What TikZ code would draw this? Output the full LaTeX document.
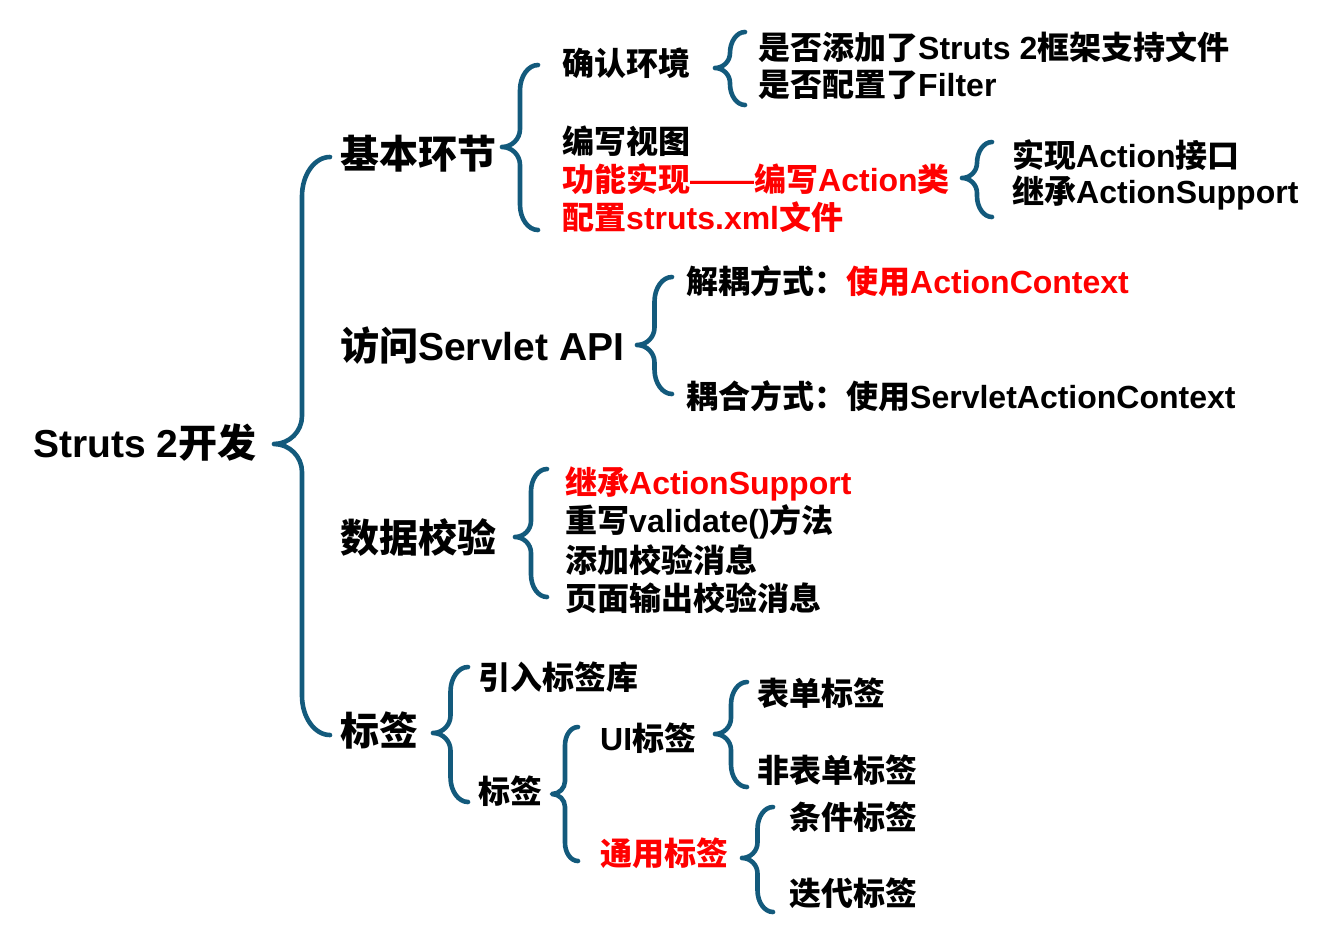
\documentclass[tikz,border=0pt]{standalone}
\usepackage{fontspec}
\setmainfont{Liberation Sans}
\newfontfamily\latfont{Liberation Sans}
\newfontfamily\cjk{Noto Sans CJK SC}
% switch fonts between Han characters and Latin text
\XeTeXinterchartokenstate=1
\newXeTeXintercharclass\hanclass
\count255="4E00
\loop
  \XeTeXcharclass\count255=\hanclass
  \advance\count255 by 1
\ifnum\count255<"A000 \repeat
\XeTeXcharclass"FF1A=\hanclass
\XeTeXinterchartoks 0 \hanclass = {\cjk}
\XeTeXinterchartoks 4095 \hanclass = {\cjk}
\XeTeXinterchartoks \hanclass 0 = {\latfont}
\XeTeXinterchartoks \hanclass 4095 = {\latfont}
\usepackage{tikz}
\usetikzlibrary{calc}
\definecolor{mapBrace}{HTML}{135A7C}
\definecolor{mapRed}{HTML}{FF0000}
\tikzset{
  rootlbl/.style={anchor=west, inner sep=0pt, font=\fontsize{39}{39}\selectfont\bfseries},
  mainlbl/.style={anchor=west, inner sep=0pt, font=\fontsize{39}{39}\selectfont\bfseries},
  leaflbl/.style={anchor=west, inner sep=0pt, font=\fontsize{32}{32}\selectfont\bfseries},
  hot/.style={text=mapRed},
  brc/.style={draw=mapBrace, line width=4.6pt, line cap=round, line join=round}
}

\begin{document}
\begin{tikzpicture}[x=1pt, y=-1pt]
\useasboundingbox (0,0) rectangle (1319,951);

% root and main branches
\node[rootlbl] (root) at (33,443) {Struts 2开发};
\node[mainlbl] (jb) at (340,154) {基本环节};
\node[mainlbl] (api) at (340,346) {访问Servlet API};
\node[mainlbl] (chk) at (340,538) {数据校验};
\node[mainlbl] (tag) at (340,730) {标签};

% basic steps
\node[leaflbl] (env) at (562,63) {确认环境};
\node[leaflbl] (view) at (562,141) {编写视图};
\node[leaflbl, hot] (act) at (562,179) {功能实现——编写Action类};
\node[leaflbl, hot] (cfg) at (562,217) {配置struts.xml文件};
\node[leaflbl] (env1) at (758,47) {是否添加了Struts 2框架支持文件};
\node[leaflbl] (env2) at (758,85) {是否配置了Filter};
\node[leaflbl] (act1) at (1012,155) {实现Action接口};
\node[leaflbl] (act2) at (1012,193) {继承ActionSupport};

% servlet api
\node[leaflbl] (api1) at (686,281) {解耦方式：\textcolor{mapRed}{使用ActionContext}};
\node[leaflbl] (api2) at (686,396) {耦合方式：使用ServletActionContext};

% validation
\node[leaflbl, hot] (chk1) at (565,484) {继承ActionSupport};
\node[leaflbl] (chk2) at (565,522) {重写validate()方法};
\node[leaflbl] (chk3) at (565,560) {添加校验消息};
\node[leaflbl] (chk4) at (565,598) {页面输出校验消息};

% tags
\node[leaflbl] (lib) at (478,677) {引入标签库};
\node[leaflbl] (tags) at (478,791) {标签};
\node[leaflbl] (ui) at (600,738) {UI标签};
\node[leaflbl, hot] (gen) at (600,853) {通用标签};
\node[leaflbl] (ui1) at (757,693) {表单标签};
\node[leaflbl] (ui2) at (757,770) {非表单标签};
\node[leaflbl] (gen1) at (789,817) {条件标签};
\node[leaflbl] (gen2) at (789,893) {迭代标签};

% braces: name / end x / top / bottom / tip y / half width
\foreach \n/\xe/\t/\b/\ym/\h in {root/330/157/735/444/28, jb/538/65/230/147/18,
    env/745/32/105/68/15, act/992/142/217/178/15, api/672/277/394/345/17.5,
    chk/547/469/597/537/16, tag/468/667/802/733/17.5, tags/578/727/861/794/13,
    ui/747/682/787/734/16, gen/773/807/912/858/15.5}{
  \pgfmathsetmacro\xv{\xe-\h}
  \pgfmathsetmacro\xt{\xe-2*\h}
  \pgfmathsetmacro\k{1.4*\h}
  \coordinate (\n-top) at (\xe,\t);
  \coordinate (\n-tip) at (\xt,\ym);
  \coordinate (\n-bot) at (\xe,\b);
  \draw[brc] (\n-top) .. controls (\xe-0.55*\h,\t) and (\xv,\t+0.45*\k) .. (\xv,\t+\k)
    -- (\xv,\ym-\h) .. controls (\xv,\ym-0.45*\h) and (\xv-0.45*\h,\ym) .. (\n-tip)
    .. controls (\xv-0.45*\h,\ym) and (\xv,\ym+0.45*\h) .. (\xv,\ym+\h)
    -- (\xv,\b-\k) .. controls (\xv,\b-0.45*\k) and (\xe-0.55*\h,\b) .. (\n-bot);
}
\end{tikzpicture}
\end{document}
